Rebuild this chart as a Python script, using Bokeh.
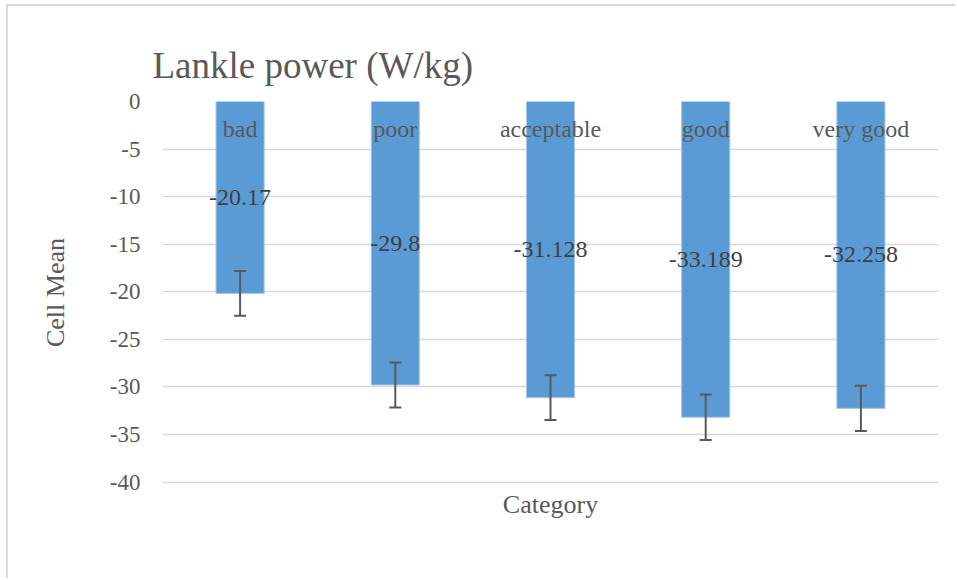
import numpy as np
from bokeh.plotting import figure
from bokeh.models import (ColumnDataSource, Range1d, FixedTicker, Whisker, TeeHead)
from bokeh.core.properties import value
from bokeh.embed import file_html
from bokeh.resources import INLINE

# ---- data ----
categories = ["bad", "poor", "acceptable", "good", "very good"]
means = [-20.17, -29.8, -31.128, -33.189, -32.258]
errors = [2.35, 2.36, 2.36, 2.40, 2.38]
value_labels = ["-20.17", "-29.8", "-31.128", "-33.189", "-32.258"]
y_ticks = [0, -5, -10, -15, -20, -25, -30, -35, -40]
y_tick_labels = ["0", "-5", "-10", "-15", "-20", "-25", "-30", "-35", "-40"]
title_text = "Lankle power (W/kg)"
x_title = "Category"
y_title = "Cell Mean"

FONT = "Liberation Serif"
GRAY = "#595959"

x = np.arange(len(categories)) + 0.5
m = np.array(means)
e = np.array(errors)
src = ColumnDataSource(dict(
    x=x, top=m, cat=categories, lab=value_labels,
    mid=m / 2.0, lower=m - e, upper=m + e, zero=np.zeros(len(categories)),
))

p = figure(width=949, height=574, output_backend="svg", toolbar_location=None,
           x_range=Range1d(0, len(categories)), y_range=Range1d(-40.15, 0),
           min_border_left=154, min_border_right=19, min_border_top=95,
           min_border_bottom=97)
p.styles = {"border-left": "2px solid #d9d9d9", "border-top": "2px solid #d9d9d9",
            "margin-left": "6px", "margin-top": "4px"}
p.outline_line_color = None
p.background_fill_color = "white"
p.border_fill_color = "white"

# title
p.title.text = title_text
p.title.text_font = FONT
p.title.text_font_size = "37px"
p.title.text_font_style = "normal"
p.title.text_color = GRAY
p.title.align = "left"
p.title.offset = -10
p.title.standoff = 32

# grid
p.xgrid.grid_line_color = None
p.ygrid.grid_line_color = "#d9d9d9"
p.ygrid.grid_line_width = 1.5
p.ygrid.ticker = FixedTicker(ticks=y_ticks)

# y axis
p.yaxis.ticker = FixedTicker(ticks=y_ticks)
p.yaxis.major_label_overrides = {t: s for t, s in zip(y_ticks, y_tick_labels)}
p.yaxis.axis_line_color = None
p.yaxis.major_tick_line_color = None
p.yaxis.minor_tick_line_color = None
p.yaxis.major_label_text_font = FONT
p.yaxis.major_label_text_font_size = "23px"
p.yaxis.major_label_text_color = GRAY
p.yaxis.major_label_standoff = 16
p.yaxis.axis_label = y_title
p.yaxis.axis_label_text_font = FONT
p.yaxis.axis_label_text_font_size = "26px"
p.yaxis.axis_label_text_font_style = "normal"
p.yaxis.axis_label_text_color = GRAY
p.yaxis.axis_label_standoff = 37

# x axis (title only)
p.xaxis.ticker = FixedTicker(ticks=[])
p.xaxis.axis_line_color = None
p.xaxis.major_tick_line_color = None
p.xaxis.minor_tick_line_color = None
p.xaxis.axis_label = x_title
p.xaxis.axis_label_text_font = FONT
p.xaxis.axis_label_text_font_size = "26px"
p.xaxis.axis_label_text_font_style = "normal"
p.xaxis.axis_label_text_color = GRAY
p.xaxis.axis_label_standoff = 6

# bars
p.vbar(x="x", top="top", bottom=0, width=0.31, source=src,
       fill_color="#5b9bd5", line_color="#a7c7ea", line_width=1)

# error bars
w = Whisker(source=src, base="x", lower="lower", upper="upper", level="overlay",
            line_color="#595959", line_width=2,
            upper_head=TeeHead(size=12, line_color="#595959", line_width=2),
            lower_head=TeeHead(size=12, line_color="#595959", line_width=2))
p.add_layout(w)

# category labels (at the zero line)
p.text(x="x", y="zero", text="cat", source=src, text_align="center",
       text_baseline="middle", y_offset=27, text_font=value(FONT),
       text_font_size="24px", text_color=GRAY)

# value labels
p.text(x="x", y="mid", text="lab", source=src, text_align="center",
       text_baseline="middle", text_font=value(FONT),
       text_font_size="24px", text_color="#404040")

open("out.html", "w").write(file_html(p, INLINE))
